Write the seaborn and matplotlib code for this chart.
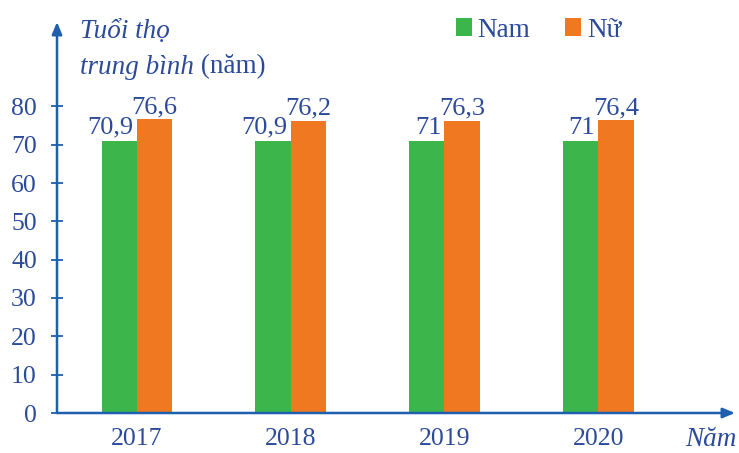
import pandas as pd
import seaborn as sns
import matplotlib.pyplot as plt

# Data
years = ["2017", "2018", "2019", "2020"]
nam = [70.9, 70.9, 71, 71]
nu = [76.6, 76.2, 76.3, 76.4]
groups = ["Nam", "Nữ"]
y_ticks = [0, 10, 20, 30, 40, 50, 60, 70, 80]

df = pd.DataFrame({
    "year": years * 2,
    "value": nam + nu,
    "group": [groups[0]] * len(years) + [groups[1]] * len(years),
})

axis_blue = "#1f5fb0"
text_blue = "#2b4a9a"
palette = {"Nam": "#3cb54a", "Nữ": "#f07820"}

sns.set_theme(style="white")
plt.rcParams["font.family"] = ["Liberation Serif", "DejaVu Serif"]

fig = plt.figure(figsize=(7.39, 4.53), dpi=100)
ax = fig.add_axes([57 / 739, 40 / 453, (735 - 57) / 739, (413 - 22) / 453])

sns.barplot(data=df, x="year", y="value", hue="group", palette=palette,
            width=0.46, saturation=1, linewidth=0, ax=ax)

ax.set_xlim(-0.52, 3.89)
ax.set_ylim(0, 102)
ax.set_yticks(y_ticks)
ax.set_xlabel("")
ax.set_ylabel("")

for s in ax.spines.values():
    s.set_visible(False)

ax.tick_params(axis="y", direction="inout", length=9, width=1.3, color=axis_blue,
               labelsize=18.5, labelcolor=text_blue, pad=10, left=True)
ax.tick_params(axis="x", length=0, labelsize=18.5, labelcolor=text_blue, pad=11)

# axes with arrows
ax.annotate("", xy=(0, 1), xytext=(0, 0), xycoords="axes fraction",
            arrowprops=dict(arrowstyle="-|>,head_length=0.6,head_width=0.25",
                            color=axis_blue, lw=1.8, shrinkA=0, shrinkB=0))
ax.annotate("", xy=(1, 0), xytext=(0, 0), xycoords="axes fraction",
            arrowprops=dict(arrowstyle="-|>,head_length=0.6,head_width=0.25",
                            color=axis_blue, lw=1.8, shrinkA=0, shrinkB=0))

# value labels
def fmt(v):
    return f"{v:g}".replace(".", ",")

for i, cont in enumerate(ax.containers):
    for bar, v in zip(cont, [nam, nu][i]):
        top = bar.get_height()
        if i == 0:
            x = bar.get_x() + bar.get_width() - 0.02
            ax.text(x, top + 0.6, fmt(v), ha="right", va="bottom",
                    fontsize=19, color=text_blue)
        else:
            x = bar.get_x() + bar.get_width() / 2
            ax.text(x, top + 0.3, fmt(v), ha="center", va="bottom",
                    fontsize=19, color=text_blue)

# legend
handles, labels = ax.get_legend_handles_labels()
leg = ax.legend(handles, labels, ncol=2, frameon=False, loc="upper left",
                bbox_to_anchor=(438 / 739, 1.0), bbox_transform=fig.transFigure,
                handlelength=0.6, handleheight=0.6, handletextpad=0.2,
                columnspacing=1.3, fontsize=19.5, borderaxespad=0.25)
for t in leg.get_texts():
    t.set_color(text_blue)

# axis titles
fig.text(80 / 739, 1 - 32 / 453, "Tuổi thọ", style="italic", fontsize=19.5,
         color=text_blue, va="center", ha="left")
t1 = fig.text(80 / 739, 1 - 67 / 453, "trung bình", style="italic", fontsize=19.5,
              color=text_blue, va="center", ha="left")
ax.annotate(" (năm)", xy=(1, 0.5), xycoords=t1, va="center", ha="left",
            fontsize=19.5, color=text_blue)
fig.text(737 / 739, 1 - 439 / 453, "Năm", style="italic", fontsize=19.5,
         color=text_blue, va="center", ha="right")

fig.savefig("out.png", dpi=100, facecolor="white")
